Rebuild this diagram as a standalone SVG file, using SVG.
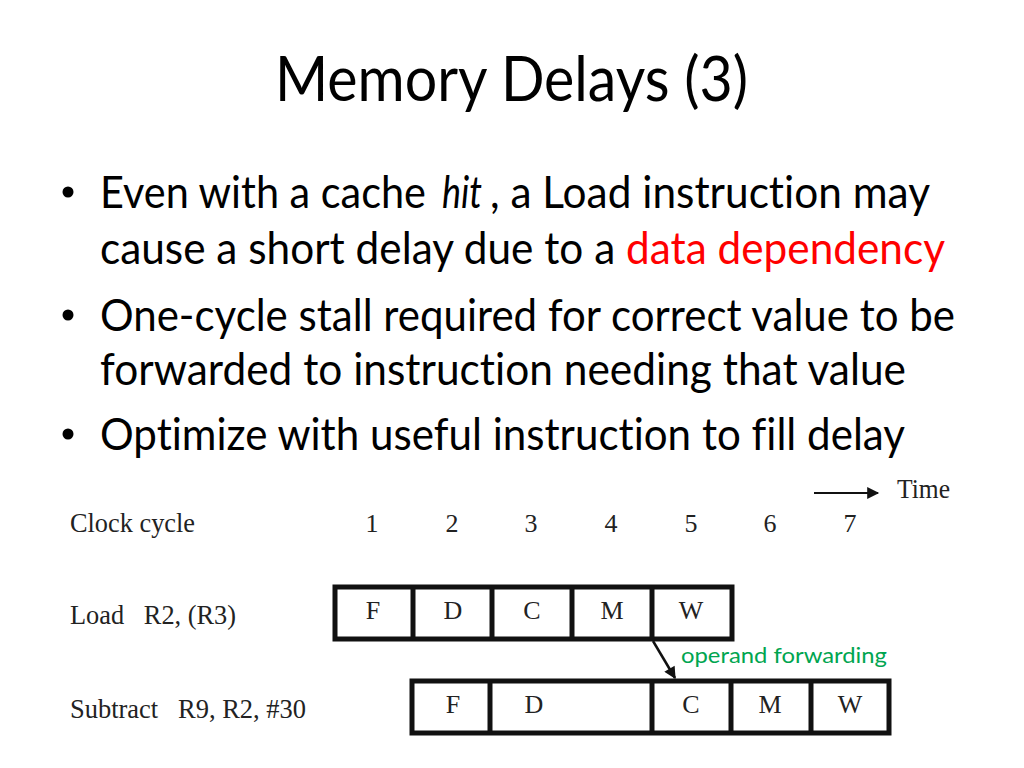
<svg xmlns="http://www.w3.org/2000/svg" width="1024" height="768" viewBox="0 0 1024 768">
<style>
.title{font-family:Lato,"Open Sans",sans-serif;font-size:61px;fill:#000;font-variant-ligatures:none}
.body{font-family:Lato,"Open Sans",sans-serif;font-size:44px;fill:#000;font-variant-ligatures:none}
.ser{font-family:"Liberation Serif","Times New Roman",serif;font-size:27px;fill:#222}
.cell{font-family:"Liberation Serif","Times New Roman",serif;font-size:26px;fill:#222;text-anchor:middle}
.box{fill:#fff;stroke:#111;stroke-width:5}
.div{stroke:#111;stroke-width:5}
.green{font-family:Lato,"Open Sans",sans-serif;font-size:22px;fill:#00A550}
</style>
<defs>
<marker id="ah2" viewBox="0 0 10 10" refX="9" refY="5" markerWidth="14" markerHeight="12" orient="auto" markerUnits="userSpaceOnUse">
<path d="M0,0 L10,5 L0,10 z" fill="#111"/>
</marker>
</defs>
<rect width="1024" height="768" fill="#fff"/>
<text class="title" x="275" y="101" textLength="473" lengthAdjust="spacingAndGlyphs">Memory Delays (3)</text>
<g id="bullets">
<circle cx="68" cy="192" r="5.5" fill="#000"/>
<circle cx="68" cy="315" r="5.5" fill="#000"/>
<circle cx="68" cy="434" r="5.5" fill="#000"/>
<text class="body" x="100" y="208" textLength="326" lengthAdjust="spacingAndGlyphs">Even with a cache</text>
<text class="body" x="442" y="208" font-style="italic" textLength="40" lengthAdjust="spacingAndGlyphs">hit</text>
<text class="body" x="490" y="208" textLength="440" lengthAdjust="spacingAndGlyphs">, a Load instruction may</text>
<text class="body" x="100" y="264" textLength="845" lengthAdjust="spacingAndGlyphs">cause a short delay due to a <tspan fill="#FF0000">data dependency</tspan></text>
<text class="body" x="100" y="331" textLength="855" lengthAdjust="spacingAndGlyphs">One-cycle stall required for correct value to be</text>
<text class="body" x="100" y="385" textLength="806" lengthAdjust="spacingAndGlyphs">forwarded to instruction needing that value</text>
<text class="body" x="100" y="450" textLength="805" lengthAdjust="spacingAndGlyphs">Optimize with useful instruction to fill delay</text>
</g>
<g id="header">
<text class="ser" x="70" y="532" textLength="125" lengthAdjust="spacingAndGlyphs">Clock cycle</text>
<text class="cell" x="372" y="532">1</text>
<text class="cell" x="452" y="532">2</text>
<text class="cell" x="531" y="532">3</text>
<text class="cell" x="611" y="532">4</text>
<text class="cell" x="691" y="532">5</text>
<text class="cell" x="770" y="532">6</text>
<text class="cell" x="850" y="532">7</text>
<text class="ser" x="897" y="498" textLength="53" lengthAdjust="spacingAndGlyphs">Time</text>
</g>
<g id="load">
<text class="ser" x="70" y="624" xml:space="preserve" textLength="166" lengthAdjust="spacingAndGlyphs">Load   R2, (R3)</text>
<rect class="box" x="335" y="587" width="397" height="52"/>
<line class="div" x1="413" y1="587" x2="413" y2="639"/>
<line class="div" x1="492" y1="587" x2="492" y2="639"/>
<line class="div" x1="572" y1="587" x2="572" y2="639"/>
<line class="div" x1="652" y1="587" x2="652" y2="639"/>
<text class="cell" x="373" y="619">F</text>
<text class="cell" x="453" y="619">D</text>
<text class="cell" x="532" y="619">C</text>
<text class="cell" x="612" y="619">M</text>
<text class="cell" x="691" y="619">W</text>
</g>
<g id="subtract">
<text class="ser" x="70" y="718" xml:space="preserve" textLength="236" lengthAdjust="spacingAndGlyphs">Subtract   R9, R2, #30</text>
<rect class="box" x="412" y="681" width="477" height="52"/>
<line class="div" x1="490" y1="681" x2="490" y2="733"/>
<line class="div" x1="652" y1="681" x2="652" y2="733"/>
<line class="div" x1="731" y1="681" x2="731" y2="733"/>
<line class="div" x1="811" y1="681" x2="811" y2="733"/>
<text class="cell" x="453" y="713">F</text>
<text class="cell" x="534" y="713">D</text>
<text class="cell" x="691" y="713">C</text>
<text class="cell" x="770" y="713">M</text>
<text class="cell" x="850" y="713">W</text>
</g>
<g id="connectors">
<line x1="814" y1="493" x2="878" y2="493" stroke="#111" stroke-width="2" marker-end="url(#ah2)"/>
<line x1="653" y1="641" x2="675" y2="678" stroke="#111" stroke-width="2.5" marker-end="url(#ah2)"/>
</g>
<text class="green" x="681" y="663" textLength="206" lengthAdjust="spacingAndGlyphs">operand forwarding</text>
</svg>
